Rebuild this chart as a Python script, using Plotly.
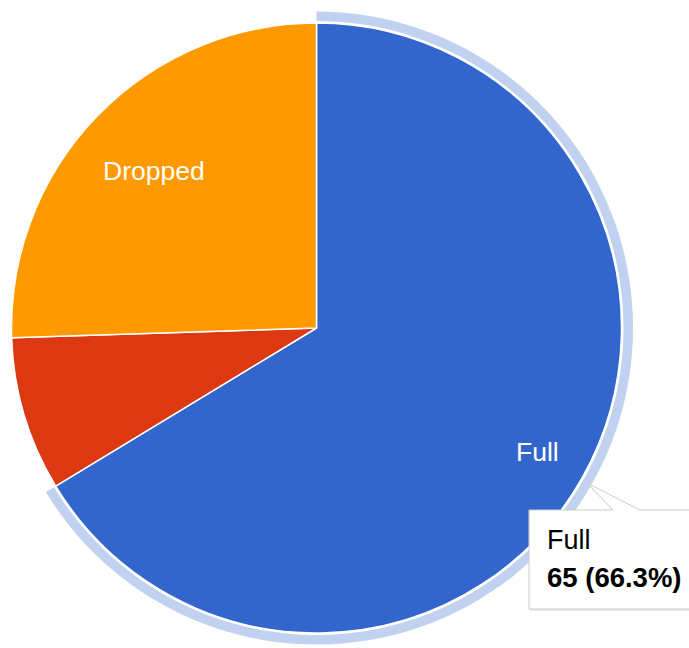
"""
Attendance pie: Full / Partial / Dropped, Full slice highlighted with a tooltip.
"""

import math
import plotly.graph_objects as go

# ── Data ──
labels = ["Full", "Partial", "Dropped"]
values = [65, 8, 25]
slice_text = ["Full", "", "Dropped"]
colors = ["#3366cc", "#dc3912", "#ff9900"]
highlighted = "Full"

W, H = 689, 648
FONT = "Arial, Liberation Sans, sans-serif"

# pie geometry in pixels (centre and radius), converted to paper domains
cx, cy, r = 316.5, 328.0, 305.0
ring_r = 316.5
# radial position of the in-slice labels, as a fraction of the radius
label_r = [0.83, 0.0, 0.74]


def dom(radius):
    return dict(
        x=[(cx - radius) / W, (cx + radius) / W],
        y=[(H - cy - radius) / H, (H - cy + radius) / H],
    )


def px(x, y):
    return x / W, 1 - y / H


fig = go.Figure()

# ── Highlight ring behind the hovered slice ──
ring_colors = ["rgba(51,102,204,0.3)" if l == highlighted else "rgba(0,0,0,0)"
               for l in labels]
fig.add_trace(go.Pie(
    labels=labels,
    values=values,
    sort=False,
    direction="clockwise",
    rotation=0,
    hole=307 / ring_r,
    domain=dom(ring_r),
    marker=dict(colors=ring_colors, line=dict(width=0)),
    textinfo="none",
    hoverinfo="skip",
    showlegend=False,
))

# ── Main pie ──
fig.add_trace(go.Pie(
    labels=labels,
    values=values,
    sort=False,
    direction="clockwise",
    rotation=0,
    domain=dom(r),
    marker=dict(colors=colors, line=dict(color="white", width=1.5)),
    textinfo="none",
    hovertemplate="%{label}<br><b>%{value} (%{percent})</b><extra></extra>",
    showlegend=False,
))

# ── Slice labels, placed along each slice's mid angle ──
total = sum(values)
start = 0.0
for v, t, f in zip(values, slice_text, label_r):
    mid = (start + v / 2) / total * 2 * math.pi
    start += v
    if not t:
        continue
    lx = cx + f * r * math.sin(mid)
    ly = cy - f * r * math.cos(mid)
    ax, ay = px(lx, ly)
    fig.add_annotation(x=ax, y=ay, xref="paper", yref="paper",
                       xanchor="center", yanchor="middle",
                       showarrow=False, text=t,
                       font=dict(family=FONT, size=26.5, color="white"))

# ── Static tooltip for the highlighted slice ──
pts = [(529, 510), (613, 510), (587, 483), (640, 510), (700, 510),
       (700, 609), (529, 609)]


def path(points, dx=0, dy=0):
    coords = [px(x + dx, y + dy) for x, y in points]
    return "M " + " L ".join(f"{a:.5f},{b:.5f}" for a, b in coords) + " Z"


fig.add_shape(type="path", xref="paper", yref="paper", path=path(pts, 1, 2),
              fillcolor="rgba(0,0,0,0.08)", line=dict(width=0))
fig.add_shape(type="path", xref="paper", yref="paper", path=path(pts),
              fillcolor="white", line=dict(color="#cccccc", width=1))

i = labels.index(highlighted)
pct = values[i] / total * 100
tx, ty1 = px(545, 540)
_, ty2 = px(545, 577)
fig.add_annotation(x=tx, y=ty1, xref="paper", yref="paper", xanchor="left",
                   yanchor="middle", showarrow=False, text=highlighted,
                   font=dict(family=FONT, size=27, color="#000000"))
fig.add_annotation(x=tx, y=ty2, xref="paper", yref="paper", xanchor="left",
                   yanchor="middle", showarrow=False,
                   text=f"<b>{values[i]} ({pct:.1f}%)</b>",
                   font=dict(family=FONT, size=27.5, color="#000000"))

# ── Layout ──
fig.update_layout(
    width=W,
    height=H,
    margin=dict(l=0, r=0, t=0, b=0),
    paper_bgcolor="white",
    plot_bgcolor="white",
    font=dict(family=FONT),
)

fig.write_html("out.html", config=dict(displayModeBar=False),
               post_script="document.body.style.margin='0';")
